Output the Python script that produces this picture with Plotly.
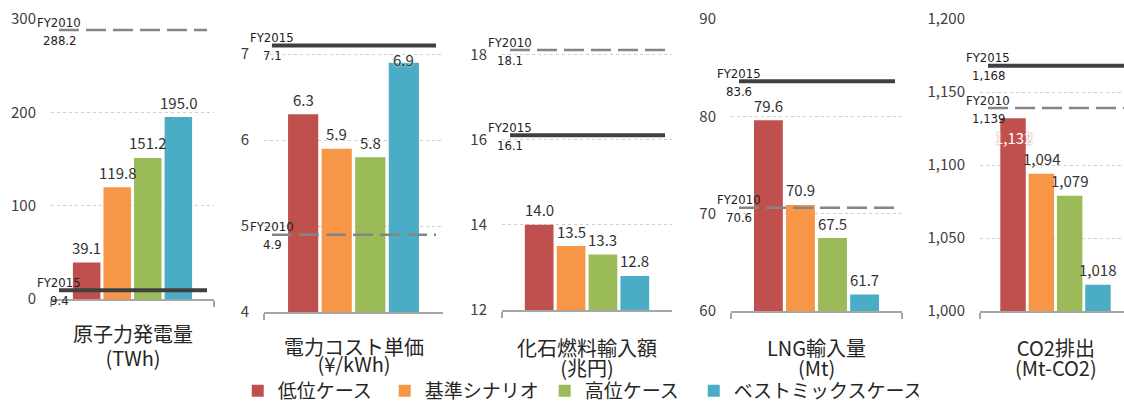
import plotly.graph_objects as go

# ---------------- data ----------------
series_names = ["低位ケース", "基準シナリオ", "高位ケース", "ベストミックスケース"]
series_colors = ["#C0504D", "#F79646", "#9BBB59", "#4BACC6"]

panel_titles = ["原子力発電量", "電力コスト単価", "化石燃料輸入額", "LNG輸入量", "CO2排出"]
panel_units = ["(TWh)", "(¥/kWh)", "(兆円)", "(Mt)", "(Mt-CO2)"]

nuclear_twh = [39.1, 119.8, 151.2, 195.0]
power_cost_yen = [6.3, 5.9, 5.8, 6.9]
fossil_import_tyen = [14.0, 13.5, 13.3, 12.8]
lng_import_mt = [79.6, 70.9, 67.5, 61.7]
co2_mt = [1132, 1094, 1079, 1018]
panel_values = [nuclear_twh, power_cost_yen, fossil_import_tyen, lng_import_mt, co2_mt]

fy2010_values = [288.2, 4.9, 18.1, 70.6, 1139]
fy2015_values = [9.4, 7.1, 16.1, 83.6, 1168]

tick_values = [
    [0, 100, 200, 300],
    [4, 5, 6, 7],
    [12, 14, 16, 18],
    [60, 70, 80, 90],
    [1000, 1050, 1100, 1150, 1200],
]
axis_ranges = [[0, 300], [4, 7.2], [12, 18.5], [60, 90], [1000, 1200]]
value_formats = [".1f", ".1f", ".1f", ".1f", ",.0f"]

# ---------------- layout constants (pixels) ----------------
W, H = 1124, 405
# (x_left, x_right, y_bottom, y_top) of each plot area
panel_px = [
    (51, 214, 299, 19),
    (264, 443, 312, 37),
    (502, 672, 310, 33),
    (731, 902, 311, 19),
    (980, 1131, 311, 19),
]
# (centre y of the two-line title, line pitch)
title_geom = [(345, 24), (355, 17), (357, 20), (357, 20), (357, 20)]
legend_entry_widths = [102, 115, 104, 180]
BARGAP = 0.25
BARGROUPGAP = 0.1

FONT = "Noto Sans CJK JP, Noto Sans, sans-serif"
FY_FONT = "Liberation Sans Narrow, Arial Narrow, DejaVu Sans Condensed, sans-serif"
TEXT_COLOR = "#333333"

fig = go.Figure()
annotations = []
shapes = []
layout_axes = {}

for i in range(5):
    sfx = "" if i == 0 else str(i + 1)
    xname, yname = "x" + sfx, "y" + sfx
    xl, xr, yb, yt = panel_px[i]
    xr_vis = min(xr, W)
    vis_frac = (xr_vis - xl) / (xr - xl)

    for j in range(4):
        fig.add_trace(go.Bar(
            x=[panel_titles[i]], y=[panel_values[i][j]],
            name=series_names[j], legendgroup=series_names[j],
            showlegend=(i == 0), legendwidth=legend_entry_widths[j],
            marker=dict(color=series_colors[j], line=dict(width=0)),
            xaxis=xname, yaxis=yname, hoverinfo="skip",
        ))

    layout_axes["xaxis" + sfx] = dict(
        domain=[xl / W, xr_vis / W], anchor=yname, type="category",
        range=[-0.5, -0.5 + vis_frac],
        showline=True, linecolor="#a6a6a6", linewidth=1.5,
        ticks="outside", tickson="boundaries", ticklen=6,
        tickcolor="#a6a6a6", tickwidth=1.5,
        showticklabels=False, showgrid=False, zeroline=False, fixedrange=True,
    )
    layout_axes["yaxis" + sfx] = dict(
        domain=[1 - yb / H, 1 - yt / H], anchor=xname,
        range=axis_ranges[i], tickvals=tick_values[i],
        tickformat="," if i == 4 else "",
        showgrid=True, gridcolor="#cfcfcf", gridwidth=1, griddash="dot",
        showline=False, zeroline=False, ticks="",
        ticklabelstandoff=14,
        tickfont=dict(family=FONT, size=15, color="#404040"),
        fixedrange=True,
    )

    # value labels above each bar
    slot = (1 - BARGAP) / 4
    for j in range(4):
        v = panel_values[i][j]
        txt = format(v, value_formats[i])
        yshift, color, shadow = 15, TEXT_COLOR, "none"
        if i == 1 and j == 3:
            yshift, shadow = 3, "0px 0px 3px #ffffff"
        if i == 4 and j == 0:
            yshift, color, shadow = -19, "#ffffff", "0px 0px 3px #d9534f"
        annotations.append(dict(
            xref=xname, yref=yname, x=(j - 1.5) * slot, y=v,
            text=txt, showarrow=False, yshift=yshift,
            xanchor="center", yanchor="middle",
            font=dict(family=FONT, size=15, color=color, shadow=shadow),
        ))

    # FY reference lines
    line_x0 = 8 / (xr_vis - xl)
    line_x1 = min((xr - 7 - xl) / (xr_vis - xl), 1.0)
    for val, label, style in [
        (fy2010_values[i], "FY2010", dict(color="#858585", width=2.5, dash="20px,7px")),
        (fy2015_values[i], "FY2015", dict(color="#404040", width=4)),
    ]:
        shapes.append(dict(
            type="line", xref=xname + " domain", yref=yname,
            x0=line_x0, x1=line_x1, y0=val, y1=val,
            line=style, layer="above",
        ))
        annotations.append(dict(
            xref=xname + " domain", yref=yname, x=line_x0, y=val,
            text=label, showarrow=False, yshift=8,
            xanchor="center", yanchor="middle",
            font=dict(family=FY_FONT, size=13, color="#222222"),
        ))
        annotations.append(dict(
            xref=xname + " domain", yref=yname, x=line_x0, y=val,
            text=format(val, value_formats[i]), showarrow=False, yshift=-10,
            xanchor="center", yanchor="middle",
            font=dict(family=FY_FONT, size=13, color="#222222"),
        ))

    # category title (two lines, tight pitch like the original)
    cy, pitch = title_geom[i]
    span = '<span style="font-size:20px">{}</span>'
    annotations.append(dict(
        xref=xname, yref="paper", x=0, y=1 - cy / H,
        text=span.format(panel_titles[i]) + "<br>" + span.format(panel_units[i]),
        showarrow=False, xanchor="center", yanchor="middle", align="center",
        font=dict(family=FONT, size=pitch / 1.3, color="#262626"),
    ))

fig.update_layout(
    width=W, height=H,
    margin=dict(l=0, r=0, t=0, b=0, autoexpand=False),
    paper_bgcolor="white", plot_bgcolor="white",
    barmode="group", bargap=BARGAP, bargroupgap=BARGROUPGAP,
    font=dict(family=FONT, color=TEXT_COLOR),
    showlegend=True,
    legend=dict(
        orientation="h", x=0.2115, xanchor="left", y=1 - 391 / H, yanchor="middle",
        font=dict(family=FONT, size=19, color="#262626"),
        itemwidth=30, traceorder="normal", bgcolor="rgba(0,0,0,0)",
    ),
    annotations=annotations, shapes=shapes,
    **layout_axes,
)

fig.write_html("out.html")
